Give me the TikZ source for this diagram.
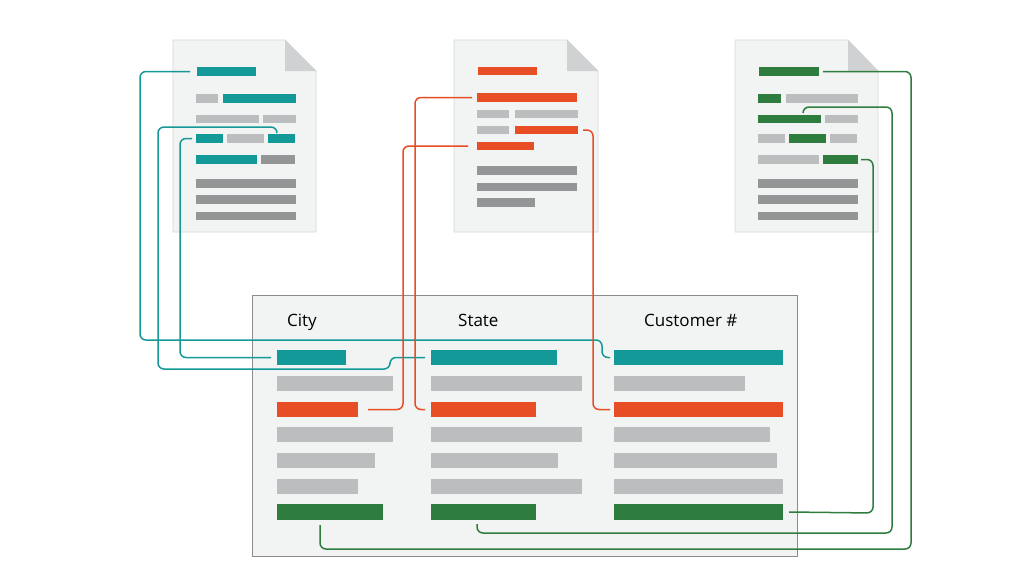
\documentclass[tikz,border=0pt]{standalone}
\usepackage{fontspec}
\newfontfamily\lblfont{Open Sans}
\definecolor{cteal}{HTML}{139A98}
\definecolor{corange}{HTML}{E84E26}
\definecolor{cgreen}{HTML}{2E7D3E}
\definecolor{clight}{HTML}{BCBDBF}
\definecolor{cdark}{HTML}{949596}
\definecolor{cpage}{HTML}{F2F3F3}
\definecolor{cpageline}{HTML}{D6D7D8}
\definecolor{cfold}{HTML}{D0D1D3}
\definecolor{cbox}{HTML}{8C8C8C}
\newcommand{\blk}[6]{%
  \node[blkbox,fill=#6,minimum width={(#4)-(#2)},minimum height={(#5)-(#3)},anchor=north west] (#1) at (#2,#3) {};}
\newcommand{\docpage}[6]{% name, x1,y1,x2,y2, foldx
  \fill[cpage,draw=cpageline,line width=0.8pt] (#2,#3) -- (#6,#3) -- (#4,{#3+31}) -- (#4,#5) -- (#2,#5) -- cycle;
  \fill[cfold] (#6,#3) -- (#6,{#3+31}) -- (#4,{#3+31}) -- cycle;
  \coordinate (#1) at (#2,#3);}
\tikzset{
  blkbox/.style={rectangle,inner sep=0pt,outer sep=0pt,draw=none},
  conn/.style={line width=1.5pt,rounded corners=6pt},
  tl/.style={conn,draw=cteal},
  ol/.style={conn,draw=corange},
  gl/.style={conn,draw=cgreen},
  head/.style={anchor=base west,inner sep=0pt,font=\lblfont\fontsize{17}{20}\selectfont,text=black}
}
\begin{document}
\begin{tikzpicture}[x=1pt,y=-1pt]
\useasboundingbox (0,0) rectangle (1024,576);
\fill[white] (0,0) rectangle (1024,576);
% ---------- document 1
\docpage{p1}{173}{40}{316}{232}{285}
\blk{d1t}{197}{67}{256}{76}{cteal}
\blk{d1r2a}{196}{94}{218}{103}{clight}
\blk{d1r2b}{223}{94}{296}{103}{cteal}
\blk{d1r3a}{196}{115}{259}{123}{clight}
\blk{d1r3b}{263}{115}{296}{123}{clight}
\blk{d1r4a}{196}{134}{223}{143}{cteal}
\blk{d1r4b}{227}{134}{264}{143}{clight}
\blk{d1r4c}{268}{134}{295}{143}{cteal}
\blk{d1r5a}{196}{155}{257}{164}{cteal}
\blk{d1r5b}{261}{155}{295}{164}{cdark}
\blk{d1r6}{196}{179}{296}{188}{cdark}
\blk{d1r7}{196}{195}{296}{204}{cdark}
\blk{d1r8}{196}{212}{296}{220}{cdark}
% ---------- document 2
\docpage{p2}{454}{40}{598}{232}{567}
\blk{d2t}{478}{67}{537}{75}{corange}
\blk{d2r2}{477}{93}{577}{102}{corange}
\blk{d2r3a}{477}{110}{509}{118}{clight}
\blk{d2r3b}{515}{110}{578}{118}{clight}
\blk{d2r4a}{477}{126}{509}{134}{clight}
\blk{d2r4b}{515}{126}{578}{134}{corange}
\blk{d2r5}{477}{142}{534}{150}{corange}
\blk{d2r6}{477}{166}{577}{175}{cdark}
\blk{d2r7}{477}{183}{577}{191}{cdark}
\blk{d2r8}{477}{198}{535}{207}{cdark}
% ---------- document 3
\docpage{p3}{735}{40}{878}{232}{848}
\blk{d3t}{759}{67}{819}{76}{cgreen}
\blk{d3r2a}{758}{94}{781}{103}{cgreen}
\blk{d3r2b}{786}{94}{858}{103}{clight}
\blk{d3r3a}{758}{115}{821}{123}{cgreen}
\blk{d3r3b}{825}{115}{858}{123}{clight}
\blk{d3r4a}{758}{134}{785}{143}{clight}
\blk{d3r4b}{789}{134}{826}{143}{cgreen}
\blk{d3r4c}{830}{134}{857}{143}{clight}
\blk{d3r5a}{758}{155}{819}{164}{clight}
\blk{d3r5b}{823}{155}{858}{164}{cgreen}
\blk{d3r6}{758}{179}{858}{188}{cdark}
\blk{d3r7}{758}{195}{858}{204}{cdark}
\blk{d3r8}{758}{212}{858}{220}{cdark}
% ---------- table
\node[rectangle,fill=cpage,draw=cbox,line width=1pt,inner sep=0pt,minimum width=545pt,minimum height=261pt,anchor=north west] (tbl) at (252,295) {};
\node[head] (hcity) at (287,326) {City};
\node[head] (hstate) at (458,326) {State};
\node[head] (hcust) at (644,326) {Customer \#};
% city column
\blk{cityT}{277}{350}{346}{365}{cteal}
\blk{cityL1}{277}{376}{393}{391}{clight}
\blk{cityO}{277}{402}{358}{417}{corange}
\blk{cityL2}{277}{427}{393}{442}{clight}
\blk{cityL3}{277}{453}{375}{468}{clight}
\blk{cityL4}{277}{479}{358}{494}{clight}
\blk{cityG}{277}{504}{383}{520}{cgreen}
% state column
\blk{stateT}{431}{350}{557}{365}{cteal}
\blk{stateL1}{431}{376}{582}{391}{clight}
\blk{stateO}{431}{402}{536}{417}{corange}
\blk{stateL2}{431}{427}{582}{442}{clight}
\blk{stateL3}{431}{453}{558}{468}{clight}
\blk{stateL4}{431}{479}{582}{494}{clight}
\blk{stateG}{431}{504}{536}{520}{cgreen}
% customer column
\blk{custT}{614}{350}{783}{365}{cteal}
\blk{custL1}{614}{376}{745}{391}{clight}
\blk{custO}{614}{402}{783}{417}{corange}
\blk{custL2}{614}{427}{770}{442}{clight}
\blk{custL3}{614}{453}{777}{468}{clight}
\blk{custL4}{614}{479}{783}{494}{clight}
\blk{custG}{614}{504}{783}{520}{cgreen}
% ---------- connectors
\draw[tl] ([xshift=-7pt]d1t.west) -| (140,340) -| (602,357.5) -- ([xshift=-4pt]custT.west);
\draw[tl] ([xshift=-4.5pt,yshift=1pt]d1r4c.north) |- (158,127) |- (390,369) |- ([xshift=-6pt]stateT.west);
\draw[tl] ([xshift=-4pt]d1r4a.west) -| (180,357.5) -- ([xshift=-6pt]cityT.west);
\draw[ol] ([xshift=-5pt]d2r2.west) -| (415,409.5) -- ([xshift=-6pt]stateO.west);
\draw[ol] ([xshift=-9pt]d2r5.west) -| (403,409.5) -- ([xshift=10pt]cityO.east);
\draw[ol] ([xshift=5pt]d2r4b.east) -| (593,409.5) -- ([xshift=-4pt]custO.west);
\draw[gl] ([xshift=4pt]d3t.east) -| (911,549) -| ([xshift=-10pt,yshift=-5pt]cityG.south);
\draw[gl] ([xshift=13.5pt,yshift=3pt]d3r3a.north) |- (892,107) |- (477,533) -- ([xshift=-6.5pt,yshift=-4pt]stateG.south);
\draw[gl] ([xshift=3pt]d3r5b.east) -| (873,513) -- ([xshift=6pt]custG.east);
\end{tikzpicture}
\end{document}
